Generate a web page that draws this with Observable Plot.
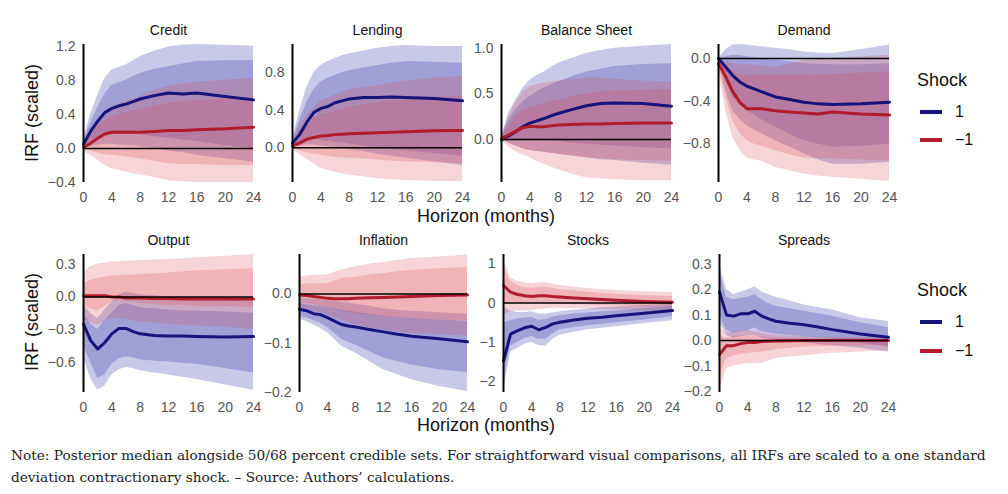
<!DOCTYPE html>
<html><head><meta charset="utf-8">
<script src="https://cdn.jsdelivr.net/npm/d3@7"></script>
<script src="https://cdn.jsdelivr.net/npm/@observablehq/plot@0.6"></script>
<style>
body{margin:0;background:#fff;}
#wrap{position:relative;width:1008px;height:494px;font-family:"Liberation Sans",Arial,sans-serif;overflow:hidden;}
.abs{position:absolute;}
.lbl{position:absolute;color:#111;white-space:nowrap;}
</style></head><body><div id="wrap"></div>
<script>
// Horizons (months) at which values were read
const horizons = [0,1,2,3,4,5,6,7,8,10,12,14,16,20,24];
const xTicks = [0,4,8,12,16,20,24];
const shockLabels = ["1", "\u22121"];
const titles = ["Credit","Lending","Balance Sheet","Demand","Output","Inflation","Stocks","Spreads"];
const captionLines = [
  "Note: Posterior median alongside 50/68 percent credible sets. For straightforward visual comparisons, all IRFs are scaled to a one standard",
  "deviation contractionary shock. \u2013 Source: Authors\u2019 calculations."
];
// rows: [lo68, lo50, median, hi50, hi68]
const creditPos = [[0.00,0.02,0.05,0.08,0.10],[0.02,0.08,0.20,0.30,0.40],[0.04,0.13,0.32,0.48,0.62],[0.05,0.16,0.42,0.64,0.82],[0.05,0.17,0.47,0.74,0.92],[0.04,0.17,0.50,0.77,0.95],[0.03,0.17,0.52,0.80,0.98],[0.03,0.17,0.55,0.84,1.03],[0.02,0.16,0.58,0.88,1.08],[0.00,0.14,0.62,0.93,1.14],[-0.03,0.12,0.65,0.96,1.19],[-0.05,0.10,0.64,0.99,1.21],[-0.08,0.08,0.65,1.02,1.22],[-0.12,0.03,0.61,1.03,1.21],[-0.16,0.00,0.57,1.03,1.20]];
const creditNeg = [[-0.03,-0.01,0.01,0.03,0.05],[-0.08,-0.03,0.06,0.15,0.22],[-0.14,-0.05,0.12,0.26,0.34],[-0.20,-0.07,0.17,0.33,0.42],[-0.24,-0.08,0.19,0.37,0.48],[-0.26,-0.09,0.19,0.40,0.52],[-0.28,-0.10,0.19,0.42,0.55],[-0.30,-0.11,0.19,0.44,0.58],[-0.31,-0.12,0.19,0.46,0.61],[-0.34,-0.15,0.20,0.50,0.68],[-0.38,-0.18,0.21,0.53,0.73],[-0.39,-0.19,0.21,0.55,0.76],[-0.40,-0.19,0.22,0.56,0.78],[-0.40,-0.20,0.23,0.58,0.80],[-0.40,-0.20,0.25,0.60,0.82]];
const lendingPos = [[0.00,0.02,0.05,0.07,0.09],[0.02,0.06,0.14,0.29,0.39],[0.03,0.08,0.27,0.48,0.64],[0.03,0.09,0.375,0.62,0.80],[0.02,0.08,0.42,0.70,0.875],[0.01,0.07,0.44,0.74,0.92],[0.00,0.06,0.48,0.77,0.95],[-0.01,0.05,0.50,0.80,0.98],[-0.02,0.04,0.52,0.82,1.00],[-0.04,0.02,0.535,0.85,1.03],[-0.07,0.00,0.535,0.875,1.06],[-0.09,-0.02,0.54,0.90,1.08],[-0.11,-0.03,0.535,0.92,1.09],[-0.15,-0.06,0.525,0.91,1.08],[-0.19,-0.09,0.50,0.90,1.08]];
const lendingNeg = [[-0.02,-0.01,0.02,0.04,0.06],[-0.07,-0.03,0.05,0.14,0.22],[-0.12,-0.05,0.09,0.24,0.34],[-0.17,-0.07,0.11,0.31,0.43],[-0.22,-0.08,0.125,0.35,0.50],[-0.24,-0.09,0.13,0.37,0.53],[-0.26,-0.10,0.14,0.39,0.56],[-0.28,-0.11,0.145,0.41,0.59],[-0.29,-0.11,0.15,0.43,0.62],[-0.31,-0.12,0.155,0.46,0.64],[-0.33,-0.13,0.16,0.48,0.66],[-0.34,-0.14,0.165,0.50,0.69],[-0.35,-0.15,0.17,0.51,0.71],[-0.36,-0.16,0.18,0.53,0.74],[-0.36,-0.17,0.185,0.55,0.76]];
const balancePos = [[0.00,0.00,0.00,0.01,0.02],[-0.04,0.00,0.04,0.21,0.29],[-0.07,-0.01,0.085,0.32,0.43],[-0.10,-0.01,0.14,0.41,0.56],[-0.12,0.00,0.18,0.47,0.65],[-0.13,-0.01,0.205,0.52,0.70],[-0.14,-0.01,0.23,0.56,0.74],[-0.15,-0.02,0.26,0.60,0.79],[-0.16,-0.02,0.285,0.63,0.835],[-0.18,-0.04,0.33,0.69,0.89],[-0.20,-0.05,0.37,0.74,0.945],[-0.22,-0.06,0.395,0.77,0.975],[-0.23,-0.07,0.40,0.80,1.00],[-0.26,-0.09,0.395,0.82,1.02],[-0.28,-0.10,0.365,0.83,1.04]];
const balanceNeg = [[-0.01,0.00,0.01,0.02,0.03],[-0.08,-0.04,0.05,0.15,0.25],[-0.13,-0.07,0.09,0.25,0.40],[-0.17,-0.10,0.13,0.32,0.52],[-0.20,-0.12,0.145,0.35,0.58],[-0.24,-0.13,0.14,0.37,0.60],[-0.27,-0.14,0.14,0.39,0.62],[-0.30,-0.15,0.15,0.41,0.63],[-0.33,-0.16,0.16,0.43,0.64],[-0.38,-0.18,0.165,0.47,0.66],[-0.42,-0.20,0.17,0.50,0.67],[-0.43,-0.21,0.17,0.52,0.67],[-0.44,-0.22,0.175,0.53,0.66],[-0.45,-0.23,0.18,0.54,0.64],[-0.45,-0.24,0.18,0.55,0.63]];
const demandPos = [[0.00,0.00,0.00,0.00,0.00],[-0.30,-0.20,-0.08,0.015,0.08],[-0.49,-0.36,-0.16,0.03,0.125],[-0.57,-0.44,-0.22,0.025,0.13],[-0.63,-0.49,-0.26,0.015,0.125],[-0.67,-0.53,-0.285,0.005,0.115],[-0.70,-0.57,-0.31,0.00,0.11],[-0.74,-0.61,-0.335,-0.01,0.10],[-0.77,-0.64,-0.36,-0.015,0.095],[-0.83,-0.71,-0.385,-0.03,0.08],[-0.89,-0.77,-0.41,-0.05,0.06],[-0.95,-0.80,-0.425,-0.055,0.05],[-0.99,-0.83,-0.43,-0.06,0.047],[-0.99,-0.82,-0.425,-0.06,0.08],[-0.97,-0.80,-0.41,-0.05,0.125]];
const demandNeg = [[-0.10,-0.08,-0.05,-0.02,0.00],[-0.49,-0.36,-0.17,-0.06,-0.03],[-0.74,-0.58,-0.31,-0.12,-0.05],[-0.86,-0.70,-0.41,-0.15,-0.06],[-0.93,-0.77,-0.47,-0.16,-0.06],[-0.95,-0.80,-0.47,-0.16,-0.065],[-0.96,-0.82,-0.47,-0.16,-0.07],[-0.99,-0.84,-0.48,-0.16,-0.075],[-1.02,-0.86,-0.49,-0.16,-0.08],[-1.05,-0.90,-0.50,-0.16,-0.05],[-1.08,-0.93,-0.51,-0.16,-0.02],[-1.10,-0.935,-0.52,-0.155,-0.01],[-1.11,-0.94,-0.50,-0.15,0.00],[-1.13,-0.95,-0.52,-0.135,0.015],[-1.15,-0.96,-0.53,-0.125,0.03]];
const outputPos = [[-0.55,-0.45,-0.25,-0.15,-0.07],[-0.75,-0.60,-0.40,-0.25,-0.15],[-0.86,-0.75,-0.48,-0.30,-0.20],[-0.82,-0.72,-0.42,-0.22,-0.12],[-0.72,-0.62,-0.34,-0.15,-0.05],[-0.67,-0.57,-0.29,-0.08,0.02],[-0.65,-0.55,-0.29,-0.06,0.04],[-0.66,-0.56,-0.32,-0.08,0.03],[-0.68,-0.58,-0.34,-0.10,0.02],[-0.70,-0.59,-0.355,-0.11,0.01],[-0.72,-0.60,-0.36,-0.12,0.00],[-0.74,-0.61,-0.36,-0.13,0.00],[-0.76,-0.62,-0.365,-0.13,-0.01],[-0.81,-0.66,-0.37,-0.14,-0.01],[-0.86,-0.70,-0.365,-0.15,-0.02]];
const outputNeg = [[-0.20,-0.08,0.01,0.12,0.23],[-0.24,-0.11,0.01,0.15,0.28],[-0.26,-0.13,0.01,0.17,0.30],[-0.23,-0.09,0.01,0.18,0.31],[-0.20,-0.05,0.00,0.19,0.32],[-0.20,-0.03,0.00,0.195,0.32],[-0.21,-0.04,-0.01,0.20,0.33],[-0.22,-0.05,-0.01,0.20,0.33],[-0.23,-0.06,-0.01,0.205,0.335],[-0.24,-0.07,-0.015,0.21,0.34],[-0.25,-0.08,-0.015,0.22,0.345],[-0.26,-0.08,-0.02,0.23,0.35],[-0.27,-0.09,-0.02,0.24,0.36],[-0.28,-0.09,-0.02,0.25,0.375],[-0.30,-0.10,-0.02,0.26,0.39]];
const inflationPos = [[-0.051,-0.045,-0.031,-0.020,-0.008],[-0.056,-0.049,-0.034,-0.022,-0.010],[-0.063,-0.054,-0.040,-0.024,-0.011],[-0.070,-0.060,-0.042,-0.025,-0.012],[-0.079,-0.068,-0.048,-0.027,-0.013],[-0.092,-0.080,-0.055,-0.030,-0.015],[-0.106,-0.092,-0.062,-0.033,-0.017],[-0.113,-0.098,-0.065,-0.035,-0.019],[-0.120,-0.104,-0.067,-0.037,-0.021],[-0.137,-0.117,-0.072,-0.041,-0.025],[-0.154,-0.130,-0.077,-0.045,-0.030],[-0.164,-0.137,-0.082,-0.048,-0.033],[-0.174,-0.144,-0.086,-0.050,-0.035],[-0.188,-0.154,-0.091,-0.053,-0.038],[-0.198,-0.160,-0.097,-0.056,-0.041]];
const inflationNeg = [[-0.030,-0.018,-0.002,0.020,0.034],[-0.032,-0.020,-0.003,0.020,0.036],[-0.035,-0.022,-0.005,0.020,0.038],[-0.038,-0.024,-0.007,0.020,0.038],[-0.042,-0.027,-0.009,0.021,0.039],[-0.048,-0.031,-0.010,0.026,0.044],[-0.054,-0.034,-0.010,0.031,0.048],[-0.058,-0.037,-0.010,0.033,0.052],[-0.062,-0.040,-0.009,0.034,0.055],[-0.068,-0.043,-0.008,0.038,0.060],[-0.073,-0.046,-0.007,0.041,0.064],[-0.077,-0.048,-0.006,0.045,0.068],[-0.080,-0.050,-0.005,0.048,0.072],[-0.083,-0.053,-0.003,0.051,0.075],[-0.086,-0.055,-0.002,0.053,0.079]];
const stocksPos = [[-2.25,-2.00,-1.47,-0.50,-0.10],[-1.25,-1.10,-0.79,-0.45,-0.20],[-1.15,-1.00,-0.70,-0.40,-0.24],[-1.05,-0.90,-0.63,-0.38,-0.24],[-1.00,-0.85,-0.59,-0.37,-0.22],[-1.08,-0.92,-0.68,-0.44,-0.28],[-1.10,-0.92,-0.62,-0.42,-0.28],[-0.92,-0.78,-0.53,-0.36,-0.25],[-0.82,-0.68,-0.49,-0.32,-0.22],[-0.74,-0.62,-0.43,-0.28,-0.18],[-0.68,-0.58,-0.385,-0.25,-0.15],[-0.64,-0.54,-0.36,-0.22,-0.12],[-0.60,-0.50,-0.32,-0.20,-0.10],[-0.52,-0.43,-0.26,-0.14,-0.06],[-0.45,-0.35,-0.19,-0.08,-0.03]];
const stocksNeg = [[-0.30,-0.05,0.45,0.90,1.10],[-0.22,0.02,0.28,0.55,0.65],[-0.20,0.01,0.22,0.45,0.55],[-0.20,0.00,0.19,0.40,0.52],[-0.19,0.00,0.17,0.38,0.50],[-0.17,0.01,0.19,0.40,0.52],[-0.15,0.01,0.19,0.42,0.52],[-0.14,0.00,0.17,0.38,0.48],[-0.13,-0.02,0.155,0.35,0.45],[-0.14,-0.04,0.13,0.31,0.41],[-0.15,-0.05,0.11,0.28,0.37],[-0.16,-0.06,0.09,0.25,0.35],[-0.17,-0.07,0.07,0.22,0.32],[-0.19,-0.09,0.04,0.19,0.29],[-0.20,-0.10,0.025,0.17,0.27]];
const spreadsPos = [[0.07,0.10,0.19,0.27,0.30],[0.02,0.04,0.10,0.17,0.20],[0.01,0.03,0.096,0.16,0.18],[0.015,0.035,0.105,0.165,0.19],[0.02,0.04,0.105,0.17,0.20],[0.02,0.05,0.115,0.18,0.21],[0.01,0.035,0.096,0.16,0.19],[0.005,0.03,0.085,0.145,0.18],[0.00,0.025,0.076,0.135,0.17],[-0.005,0.02,0.068,0.125,0.155],[-0.01,0.015,0.062,0.115,0.14],[-0.015,0.01,0.053,0.105,0.13],[-0.02,0.005,0.043,0.095,0.12],[-0.03,-0.01,0.026,0.07,0.09],[-0.045,-0.025,0.013,0.05,0.075]];
const spreadsNeg = [[-0.20,-0.14,-0.055,0.02,0.05],[-0.11,-0.07,-0.02,0.01,0.03],[-0.10,-0.06,-0.02,0.015,0.035],[-0.095,-0.055,-0.012,0.018,0.038],[-0.09,-0.05,-0.008,0.02,0.04],[-0.09,-0.048,-0.008,0.018,0.035],[-0.09,-0.045,-0.004,0.015,0.03],[-0.08,-0.04,-0.003,0.012,0.025],[-0.07,-0.035,-0.002,0.01,0.02],[-0.065,-0.03,-0.001,0.01,0.018],[-0.06,-0.025,0.00,0.01,0.015],[-0.055,-0.023,0.00,0.008,0.013],[-0.05,-0.022,0.00,0.007,0.012],[-0.045,-0.02,0.00,0.006,0.011],[-0.04,-0.02,0.00,0.005,0.01]];
// y domains and ticks per panel
const yDomains = [[-0.4,1.22],[-0.37,1.1],[-0.47,1.04],[-1.16,0.13],[-0.88,0.39],[-0.2,0.08],[-2.28,1.24],[-0.204,0.338]];
const yTicks = [[-0.4,0,0.4,0.8,1.2],[0,0.4,0.8],[0,0.5,1.0],[-0.8,-0.4,0],[-0.6,-0.3,0,0.3],[-0.2,-0.1,0],[-2,-1,0,1],[-0.2,-0.1,0,0.1,0.2,0.3]];
const yFormats = [".1f",".1f",".1f",".1f",".1f",".1f","d",".1f"];

const posSeries = [creditPos,lendingPos,balancePos,demandPos,outputPos,inflationPos,stocksPos,spreadsPos];
const negSeries = [creditNeg,lendingNeg,balanceNeg,demandNeg,outputNeg,inflationNeg,stocksNeg,spreadsNeg];

// layout (frame boxes)
const frames = [
  [83,44,170,138],[292,44,170,138],[501,44,170,138],[718,44,171,138],
  [83,254,170,138],[299,254,168,138],[503,254,169,138],[719,254,169,138]
];
const BLUE = "rgb(53,53,170)", RED = "rgb(215,70,80)";
const BLUE_LINE = "#16137a", RED_LINE = "#b01c2c";
const OP = 0.27, OPR = 0.23;

const wrap = document.getElementById("wrap");
const ML = 55, MR = 25, MT = 30, MB = 30;

function toRows(arr){ return arr.map((r,i)=>({h:horizons[i], lo68:r[0], lo50:r[1], med:r[2], hi50:r[3], hi68:r[4]})); }

titles.forEach((t,i)=>{
  const [fx,fy,fw,fh] = frames[i];
  const pos = toRows(posSeries[i]), neg = toRows(negSeries[i]);
  const chart = Plot.plot({
    width: ML+fw+MR, height: MT+fh+MB,
    marginLeft: ML, marginRight: MR, marginTop: MT, marginBottom: MB,
    style: {background:"transparent", overflow:"visible", fontFamily:"'Liberation Sans', Arial, sans-serif", fontSize:"14px", color:"#555"},
    x: {domain:[0,24], ticks:xTicks, tickSize:0, tickPadding:10, label:null},
    y: {domain:yDomains[i], ticks:yTicks[i], tickSize:0, tickPadding:8, label:null, tickFormat:d3.format(yFormats[i])},
    marks: [
      Plot.areaY(pos, {x:"h", y1:"lo68", y2:"hi68", fill:BLUE, fillOpacity:OP}),
      Plot.areaY(pos, {x:"h", y1:"lo50", y2:"hi50", fill:BLUE, fillOpacity:OP}),
      Plot.areaY(neg, {x:"h", y1:"lo68", y2:"hi68", fill:RED, fillOpacity:OPR}),
      Plot.areaY(neg, {x:"h", y1:"lo50", y2:"hi50", fill:RED, fillOpacity:OPR}),
      Plot.lineY(pos, {x:"h", y:"med", stroke:BLUE_LINE, strokeWidth:3}),
      Plot.lineY(neg, {x:"h", y:"med", stroke:RED_LINE, strokeWidth:3}),
      Plot.ruleY([0], {stroke:"black", strokeWidth:1.5}),
      Plot.ruleX([0], {stroke:"black", strokeWidth:2}),
      Plot.text([t], {text:d=>d, frameAnchor:"top", lineAnchor:"middle", dy:-14, fontSize:14, fill:"#111"})
    ]
  });
  const div = document.createElement("div");
  div.className = "abs";
  div.style.left = (fx-ML)+"px"; div.style.top = (fy-MT)+"px";
  div.appendChild(chart);
  wrap.appendChild(div);
});

function addLabel(text, x, y, size, opts={}){
  const d = document.createElement("div");
  d.className = "lbl";
  d.textContent = text;
  d.style.fontSize = size+"px";
  d.style.left = x+"px"; d.style.top = y+"px";
  d.style.transform = opts.rotate ? "translate(-50%,-50%) rotate(-90deg)" : (opts.center ? "translate(-50%,-50%)" : "translate(0,-50%)");
  wrap.appendChild(d);
}
// axis titles
[113,322].forEach(y=>addLabel("IRF (scaled)", 32, y, 18, {rotate:true}));
[216,425].forEach(y=>addLabel("Horizon (months)", 486, y, 18, {center:true}));
// legends
[[80,112,140],[290,322,351]].forEach(([ty,y1,y2])=>{
  addLabel("Shock", 942, ty, 18, {center:true});
  [[y1,BLUE_LINE,shockLabels[0]],[y2,RED_LINE,shockLabels[1]]].forEach(([yy,col,lab])=>{
    const s = document.createElement("div");
    s.className="abs"; s.style.left="920px"; s.style.top=(yy-2)+"px"; s.style.width="22px"; s.style.height="4px"; s.style.background=col;
    wrap.appendChild(s);
    addLabel(lab, 955, yy, 16);
  });
});
// caption
const cap = document.createElement("div");
cap.className="abs";
cap.style.left="11px"; cap.style.top="444px";
cap.style.fontFamily="'DejaVu Serif', serif"; cap.style.fontSize="13.7px"; cap.style.lineHeight="22px"; cap.style.color="#222"; cap.style.whiteSpace="nowrap";
cap.innerHTML = captionLines.join("<br>");
wrap.appendChild(cap);
</script></body></html>
